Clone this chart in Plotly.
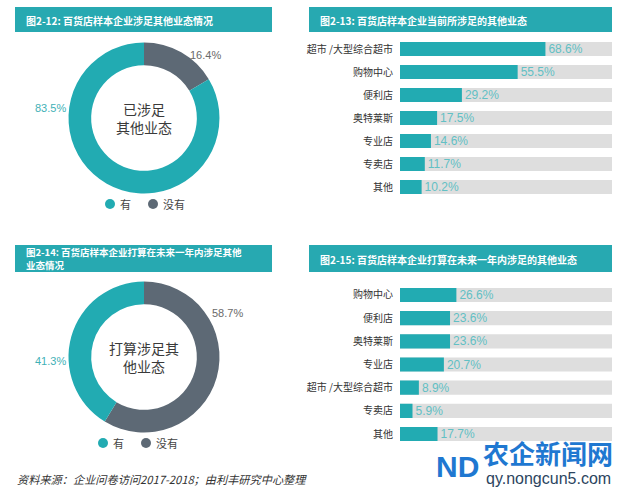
import plotly.graph_objects as go

W, H = 626, 490

# ---------------- data ----------------
donut_labels = ["有", "没有"]
donut1_values = [83.5, 16.4]
donut2_values = [41.3, 58.7]
donut1_center = ["已涉足", "其他业态"]
donut2_center = ["打算涉足其", "他业态"]

bar1_categories = ["超市 /大型综合超市", "购物中心", "便利店", "奥特莱斯", "专业店", "专卖店", "其他"]
bar1_values = [68.6, 55.5, 29.2, 17.5, 14.6, 11.7, 10.2]

bar2_categories = ["购物中心", "便利店", "奥特莱斯", "专业店", "超市 /大型综合超市", "专卖店", "其他"]
bar2_values = [26.6, 23.6, 23.6, 20.7, 8.9, 5.9, 17.7]

TRACK_MAX = 100

titles = [
    "图2-12: 百货店样本企业涉足其他业态情况",
    "图2-13: 百货店样本企业当前所涉足的其他业态",
    ["图2-14: 百货店样本企业打算在未来一年内涉足其他", "业态情况"],
    "图2-15: 百货店样本企业打算在未来一年内涉足的其他业态",
]
source_text = "资料来源：企业问卷访问2017-2018；由利丰研究中心整理"

# ---------------- style ----------------
TEAL = "#22abb2"
GRAY = "#5d6975"
TRACK = "#dedede"
TITLE_BG = "#27a9b1"
VAL_TEAL = "#62c0c4"
FONT = "Noto Sans CJK SC"
DONUT_COLORS = [TEAL, GRAY]

def px(x):
    return x / W

def py(y):
    return 1 - y / H

def note(x, y, text, size, color, family=FONT, xanchor="center", align="center"):
    fig.add_annotation(x=px(x), y=py(y), xref="paper", yref="paper",
                       text=text, showarrow=False, xanchor=xanchor, yanchor="middle",
                       align=align, font=dict(family=family, size=size, color=color))

fig = go.Figure()

# ---------------- donuts ----------------
def add_donut(values, cy, center_lines, label_pos, legend_pos):
    r = 75.5
    fig.add_trace(go.Pie(
        labels=donut_labels[::-1], values=values[::-1], hole=0.70, sort=False,
        direction="clockwise", rotation=0,
        marker=dict(colors=DONUT_COLORS[::-1], line=dict(width=0)),
        textinfo="none", hoverinfo="label+value", showlegend=False,
        domain=dict(x=[px(144 - r), px(144 + r)], y=[py(cy + r), py(cy - r)]),
    ))
    note(144, cy, "<br>".join(center_lines), 14, "#3a3a3a")
    for v, (lx, ly), col in zip(values, label_pos, ["#3fb1b6", "#6a6a6a"]):
        note(lx, ly, f"{v:.1f}%", 11, col, family="Liberation Sans")
    for lab, (lx, ly), col in zip(donut_labels, legend_pos, DONUT_COLORS):
        fig.add_shape(type="circle", xref="paper", yref="paper",
                      x0=px(lx - 5), x1=px(lx + 5), y0=py(ly + 5), y1=py(ly - 5),
                      fillcolor=col, line=dict(width=0))
        note(lx + 8, ly, lab, 11, "#444", xanchor="left")

add_donut(donut1_values, 118, donut1_center,
          [(50, 108), (205, 55)], [(110, 204), (153, 204)])
add_donut(donut2_values, 357, donut2_center,
          [(50, 361), (227, 313)], [(103, 443), (146, 443)])

# ---------------- bars ----------------
def add_bars(cats, vals, xa, ya):
    fig.add_trace(go.Bar(
        y=cats, x=[TRACK_MAX] * len(cats), orientation="h",
        marker=dict(color=TRACK, line=dict(width=0)),
        xaxis=xa, yaxis=ya, hoverinfo="skip", showlegend=False,
    ))
    fig.add_trace(go.Bar(
        y=cats, x=vals, orientation="h",
        marker=dict(color=TEAL, line=dict(width=0)),
        text=[f"{v:.1f}%" for v in vals], textposition="outside",
        constraintext="none", cliponaxis=False,
        outsidetextfont=dict(family="Liberation Sans", size=12, color=VAL_TEAL),
        xaxis=xa, yaxis=ya, showlegend=False,
    ))

add_bars(bar1_categories, bar1_values, "x", "y")
add_bars(bar2_categories, bar2_values, "x2", "y2")

xcommon = dict(range=[0, TRACK_MAX], showgrid=False, zeroline=False,
               showticklabels=False, showline=False, fixedrange=True)
ycommon = dict(autorange="reversed", showgrid=False, zeroline=False,
               showline=False, ticks="", ticklabelstandoff=6,
               tickfont=dict(family=FONT, size=10, color="#333"))

fig.update_layout(
    xaxis=dict(domain=[px(400), px(612)], anchor="y", **xcommon),
    yaxis=dict(domain=[py(198.5), py(37.5)], anchor="x", **ycommon),
    xaxis2=dict(domain=[px(400), px(612)], anchor="y2", **xcommon),
    yaxis2=dict(domain=[py(445.6), py(283.4)], anchor="x2", **ycommon),
    barmode="overlay", bargap=0.39,
)

# ---------------- title bars ----------------
def title_bar(x0, x1, y0, y1):
    fig.add_shape(type="rect", xref="paper", yref="paper",
                  x0=px(x0), x1=px(x1), y0=py(y1), y1=py(y0),
                  fillcolor=TITLE_BG, line=dict(width=0), layer="below")

def title_text(x, y, t, size=10):
    note(x, y, f"<b>{t}</b>", size, "white", xanchor="left", align="left")

title_bar(15, 272, 7, 32)
title_text(24, 20, titles[0])
title_bar(309, 612, 7, 32)
title_text(318, 20, titles[1])
title_bar(15, 272, 245, 272)
title_text(24, 252.5, titles[2][0], 9.5)
title_text(24, 265, titles[2][1], 9.5)
title_bar(309, 612, 245, 272)
title_text(318, 259, titles[3])

# ---------------- source ----------------
note(15, 479, f"<i>{source_text}</i>", 11.2, "#333", xanchor="left", align="left")

# ---------------- watermark ----------------
note(457, 466, "<b>ND</b>", 30, "#1f78d1", family="Liberation Sans Narrow, Liberation Sans")
note(548, 452, "<b>农企新闻网</b>", 26, "#1f78d1")
note(548, 478, "qy.nongcun5.com", 16, "#2c4560", family="Liberation Sans")

fig.update_layout(
    width=W, height=H, margin=dict(l=0, r=0, t=0, b=0),
    paper_bgcolor="white", plot_bgcolor="rgba(0,0,0,0)",
    font=dict(family=FONT),
)

fig.write_html("out.html", config={"displayModeBar": False},
               post_script="document.body.style.margin='0';")
